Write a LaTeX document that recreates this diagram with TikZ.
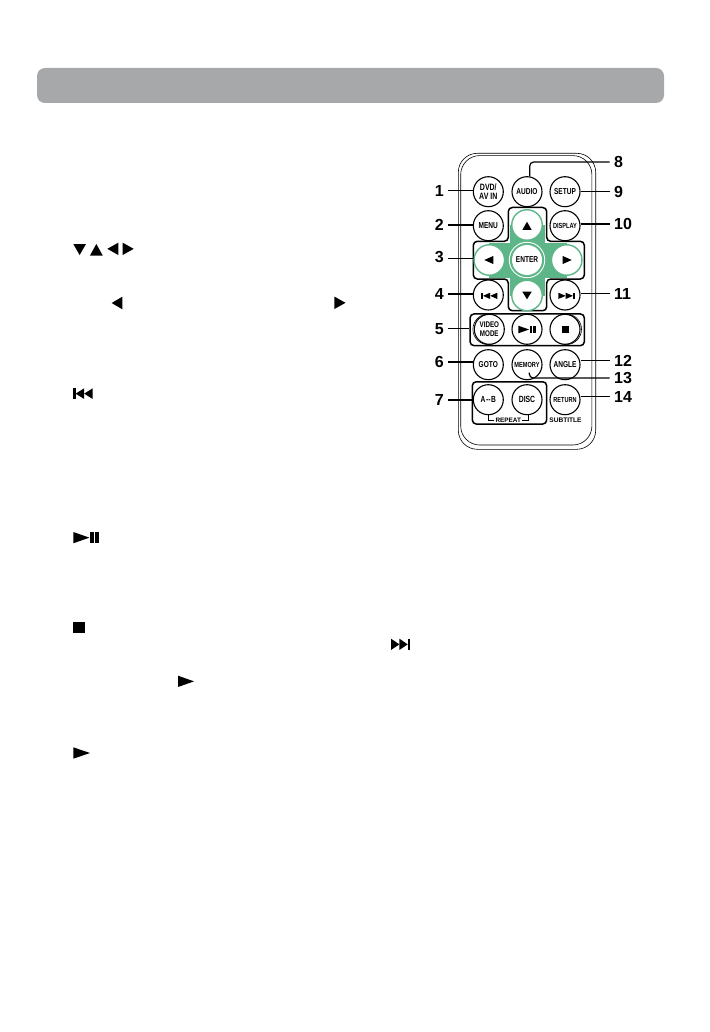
\documentclass[tikz,border=0pt]{standalone}
\usepackage{fontspec}
\setmainfont{Liberation Sans}
\newfontfamily\btnface[FakeStretch=0.76]{Liberation Sans}
\definecolor{headgray}{HTML}{A7A8AA}
\definecolor{padgreen}{HTML}{5CB688}
\newcommand{\numfont}[1]{\bfseries\fontsize{#1}{#1}\selectfont}
\newcommand{\btnfont}[1]{\btnface\bfseries\fontsize{#1}{#1}\selectfont}
% icons, given by left, top, width, height
\newcommand{\playtri}[4]{\fill (#1,#2) -- ++(#3,#4/2) -- ++(-#3,#4/2) -- cycle;}
\newcommand{\backtri}[4]{\fill (#1+#3,#2) -- ++(-#3,#4/2) -- ++(#3,#4/2) -- cycle;}
\newcommand{\uptri}[4]{\fill (#1,#2+#4) -- ++(#3/2,-#4) -- ++(#3/2,#4) -- cycle;}
\newcommand{\downtri}[4]{\fill (#1,#2) -- ++(#3/2,#4) -- ++(#3/2,-#4) -- cycle;}
\newcommand{\prevtrack}[4]{
  \fill (#1,#2) rectangle ++(#3*0.12,#4);
  \backtri{#1+#3*0.12}{#2}{#3*0.44}{#4}
  \backtri{#1+#3*0.56}{#2}{#3*0.44}{#4}
}
\newcommand{\nexttrack}[4]{
  \playtri{#1}{#2}{#3*0.44}{#4}
  \playtri{#1+#3*0.44}{#2}{#3*0.44}{#4}
  \fill (#1+#3*0.88,#2) rectangle ++(#3*0.12,#4);
}
\newcommand{\playpause}[4]{
  \playtri{#1}{#2}{#3*0.62}{#4}
  \fill (#1+#3*0.65,#2) rectangle ++(#3*0.15,#4);
  \fill (#1+#3*0.85,#2) rectangle ++(#3*0.15,#4);
}
\tikzset{
  button/.style={circle, draw, fill=white, line width=1.1pt, minimum size=30pt, inner sep=0pt, align=center, font=\btnfont{8.6}},
  padbutton/.style={button, draw=padgreen, line width=1.4pt, minimum size=30.5pt},
  groupbox/.style={draw, line width=1.5pt, rounded corners=4pt, inner sep=0pt},
  leftnum/.style={anchor=east, inner sep=0pt, inner xsep=4pt, font=\numfont{16}},
  rightnum/.style={anchor=west, inner sep=0pt, inner xsep=4.5pt, font=\numfont{16}},
  leader/.style={line width=1.2pt},
  shell/.style={line width=0.6pt, rounded corners=19pt}
}
\begin{document}
\begin{tikzpicture}[x=1pt, y=-1pt]
  \useasboundingbox (0,0) rectangle (709,1032);
  \fill[white] (0,0) rectangle (709,1032);

  % heading bar
  \fill[headgray, rounded corners=8pt] (37,68) rectangle (664,103);

  % icons of the text column
  \downtri{73.3}{244}{12.7}{11}
  \uptri{90}{244}{12.7}{11.5}
  \backtri{107.3}{242.7}{11}{12.3}
  \playtri{122.7}{242.7}{11}{12.3}
  \backtri{111.7}{296.7}{10.6}{12.6}
  \playtri{334.3}{296.5}{11.2}{12.6}
  \prevtrack{73.3}{388.3}{19.4}{10.7}
  \playpause{73.3}{532}{26}{11.3}
  \fill (73,622) rectangle (85,633);
  \nexttrack{391}{638.7}{19}{11.3}
  \playtri{178}{675.7}{16}{11.3}
  \playtri{73.3}{747.3}{16.7}{11.4}

  % remote outline
  \draw[shell] (458.3,153.3) rectangle (595.7,449.3);
  \draw[shell] (460.7,155.6) rectangle (591.9,445);

  % arrow pad
  \draw[groupbox, fill=white] (508.3,241.3) -- (508.3,207.5) -- (546.7,207.5) -- (546.7,241.3)
    -- (584.3,241.3) -- (584.3,279) -- (546.7,279) -- (546.7,310.7) -- (508.3,310.7) -- (508.3,279)
    -- (473.3,279) -- (473.3,241.3) -- cycle;
  \fill[padgreen] (510,225) rectangle (545,296);
  \fill[padgreen] (489,243) rectangle (567,277.5);
  \node[padbutton] (up) at (527,225) {};
  \node[padbutton] (down) at (527,295.5) {};
  \node[padbutton] (left) at (489.3,260) {};
  \node[padbutton] (right) at (566.7,260) {};
  \node[circle, draw=white, line width=0.9pt, fill=padgreen, minimum size=35.5pt, inner sep=0pt] (enterring) at (527,260) {};
  \node[circle, fill=white, minimum size=30pt, inner sep=0pt, font=\btnfont{8.6}] (enter) at (527,260) {ENTER};
  \uptri{522.3}{221.7}{9.4}{8.3}
  \downtri{522.3}{291.7}{9.4}{7.6}
  \backtri{484.3}{256}{9}{8}
  \playtri{562.7}{256}{9}{8}

  % transport group
  \node[groupbox, minimum width=114.3pt, minimum height=31.7pt] (transport) at (527.2,329.8) {};
  \draw[line width=0.6pt] (488.2,329.3) circle (15.3);
  \draw[line width=0.6pt] (566.2,329.3) circle (15.3);

  % repeat group
  \node[groupbox, minimum width=74.4pt, minimum height=42.3pt] (repeatbox) at (509.5,402.9) {};
  \draw[line width=0.7pt] (488.3,414.5) -- (488.3,420.2) -- (494.3,420.2);
  \draw[line width=0.7pt] (528.3,414.5) -- (528.3,420.2) -- (522.3,420.2);
  \node[inner sep=0pt, font=\numfont{6.4}] (repeatlabel) at (508.3,420.7) {REPEAT};
  \node[inner sep=0pt, font=\numfont{6.6}] (subtitle) at (565.5,420.7) {SUBTITLE};

  % buttons
  \node[button, font=\btnfont{9.2}] (dvd) at (488.3,191.7) {DVD/\\[0.5pt]AV IN};
  \node[button] (audio) at (527,191.7) {AUDIO};
  \node[button] (setup) at (565,191.7) {SETUP};
  \node[button] (menu) at (488.3,225.7) {MENU};
  \node[button, font=\btnfont{7.4}] (display) at (565,225.7) {DISPLAY};
  \node[button] (prev) at (488.3,295) {};
  \node[button] (next) at (565,295) {};
  \node[button, font=\btnfont{8.2}] (video) at (489.3,329.3) {VIDEO\\[0.5pt]MODE};
  \node[button] (play) at (527,329.3) {};
  \node[button] (stop) at (565,329.3) {};
  \node[button] (goto) at (488.3,364.7) {GOTO};
  \node[button, font=\btnfont{7.4}] (memory) at (527,364.7) {MEMORY};
  \node[button] (angle) at (565,364.7) {ANGLE};
  \node[button, font=\btnfont{8.8}] (ab) at (488.3,399.7) {A\kern0.6pt--\kern0.6pt B};
  \node[button, font=\btnfont{9}] (disc) at (527,399.7) {DISC};
  \node[button, font=\btnfont{7.3}] (return) at (565,399.7) {RETURN};
  \prevtrack{481}{292.7}{16.3}{6.3}
  \nexttrack{558.3}{292.7}{16.7}{6.3}
  \playpause{518.3}{325.7}{17.4}{7.6}
  \fill (562,326) rectangle (569,332.7);

  % numbers
  \node[leftnum] (n1) at (448,190.7) {1};
  \node[leftnum] (n2) at (448,225) {2};
  \node[leftnum] (n3) at (448,257) {3};
  \node[leftnum] (n4) at (448,294) {4};
  \node[leftnum] (n5) at (448,328.7) {5};
  \node[leftnum] (n6) at (448,362) {6};
  \node[leftnum] (n7) at (448,400) {7};
  \node[rightnum] (n8) at (609.5,162) {8};
  \node[rightnum] (n9) at (609.5,191.7) {9};
  \node[rightnum] (n10) at (609.5,224) {10};
  \node[rightnum] (n11) at (609.5,293.5) {11};
  \node[rightnum] (n12) at (609.5,360.5) {12};
  \node[rightnum] (n13) at (609.5,378) {13};
  \node[rightnum] (n14) at (609.5,396.5) {14};

  \coordinate (padwest) at (473.3,258.7);
  \coordinate (memtip) at (529.3,372.5);

  % leaders
  \draw[leader] (n1.east) -- (dvd.west |- n1.east);
  \draw[leader] (n2.east) -- (menu.west |- n2.east);
  \draw[leader] (n3.east |- padwest) -- (padwest);
  \draw[leader] (n4.east) -- (prev.west |- n4.east);
  \draw[leader] (n5.east) -- (transport.west |- n5.east);
  \draw[leader] (n6.east) -- (goto.west |- n6.east);
  \draw[leader] (n7.east) -- (repeatbox.west |- n7.east);
  \draw[leader, rounded corners=4pt] (n8.west) -| (audio.80);
  \draw[leader] (n9.west) -- (setup.east |- n9.west);
  \draw[leader] (n10.west) -- (display.east |- n10.west);
  \draw[leader] (n11.west) -- (next.east |- n11.west);
  \draw[leader] (n12.west) -- (angle.east |- n12.west);
  \draw[leader, rounded corners=4pt] (n13.west) -| (memtip);
  \draw[leader] (n14.west) -- (return.east |- n14.west);
\end{tikzpicture}
\end{document}
